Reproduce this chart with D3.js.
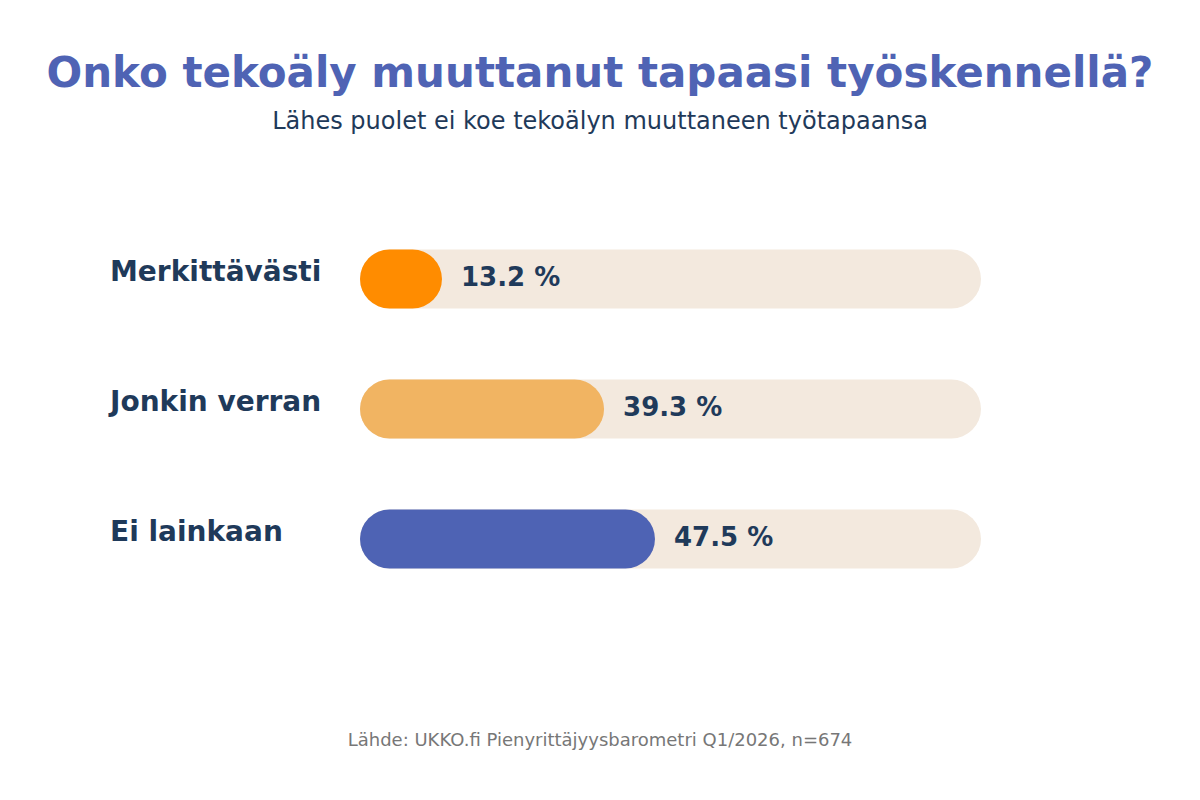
<!DOCTYPE html>
<html>
<head>
<meta charset="utf-8">
<script src="https://cdn.jsdelivr.net/npm/d3@7"></script>
<style>
  body { margin: 0; background: #fff; }
  svg { font-family: "DejaVu Sans", sans-serif; }
</style>
</head>
<body>
<svg id="drawing_region" width="1200" height="800"></svg>
<script>
const categories = ["Merkittävästi", "Jonkin verran", "Ei lainkaan"];
const values = [13.2, 39.3, 47.5];
const colors = ["#FF8C00", "#F1B462", "#4E63B4"];

const svg = d3.select('#drawing_region');
const W = 1200;

svg.append('text')
    .attr('x', W / 2).attr('y', 87)
    .attr('text-anchor', 'middle')
    .attr('font-size', 42).attr('font-weight', 'bold')
    .attr('fill', '#4F63B4')
    .text("Onko tekoäly muuttanut tapaasi työskennellä?");

svg.append('text')
    .attr('x', W / 2).attr('y', 129)
    .attr('text-anchor', 'middle')
    .attr('font-size', 24)
    .attr('fill', '#1F3A5A')
    .text("Lähes puolet ei koe tekoälyn muuttaneen työtapaansa");

const x = d3.scaleLinear().domain([0, 100]).range([360, 981]);
const y = d3.scalePoint().domain(categories).range([279, 539]);

const barH = 59;
const data = categories.map((c, i) => ({ cat: c, value: values[i], color: colors[i] }));

const rows = svg.selectAll('g.row')
    .data(data)
    .enter().append('g')
    .attr('class', 'row');

// background track
rows.append('rect')
    .attr('x', x(0)).attr('y', d => y(d.cat) - barH / 2)
    .attr('width', x(100) - x(0)).attr('height', barH)
    .attr('rx', barH / 2)
    .attr('fill', '#F3E9DE');

// value bar
rows.append('rect')
    .attr('x', x(0)).attr('y', d => y(d.cat) - barH / 2)
    .attr('width', d => x(d.value) - x(0)).attr('height', barH)
    .attr('rx', barH / 2)
    .attr('fill', d => d.color);

// category labels
rows.append('text')
    .attr('x', 110).attr('y', d => y(d.cat) + 2)
    .attr('font-size', 28).attr('font-weight', 'bold')
    .attr('fill', '#1F3A5A')
    .text(d => d.cat);

// value labels
rows.append('text')
    .attr('x', d => x(d.value) + 19).attr('y', d => y(d.cat) + 7)
    .attr('font-size', 26).attr('font-weight', 'bold')
    .attr('fill', '#1F3A5A')
    .text(d => d.value.toFixed(1) + " %");

svg.append('text')
    .attr('x', W / 2).attr('y', 746)
    .attr('text-anchor', 'middle')
    .attr('font-size', 18)
    .attr('fill', '#777777')
    .text("Lähde: UKKO.fi Pienyrittäjyysbarometri Q1/2026, n=674");
</script>
</body>
</html>
